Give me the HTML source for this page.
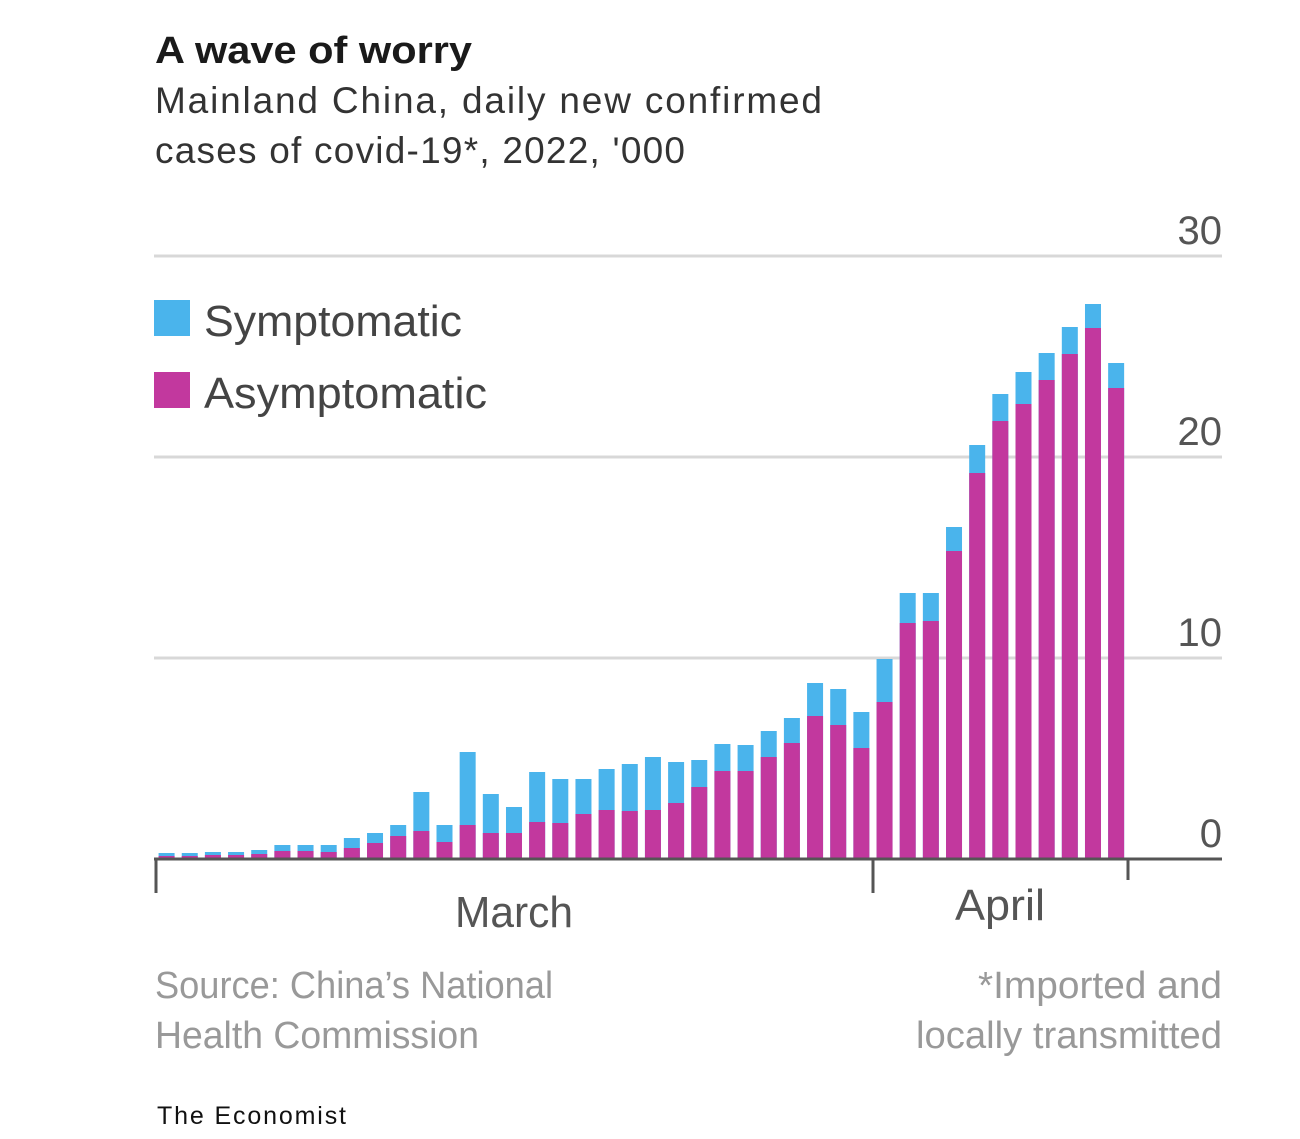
<!DOCTYPE html>
<html><head><meta charset="utf-8">
<style>
html,body{margin:0;padding:0;background:#fff;}
body{width:1300px;height:1139px;overflow:hidden;}
svg{display:block}
text{font-family:"Liberation Sans","DejaVu Sans",sans-serif;}
</style></head>
<body>
<svg id="s" width="1300" height="1139" viewBox="0 0 1300 1139" xmlns="http://www.w3.org/2000/svg">
<text x="155" y="63" font-size="38" font-weight="bold" fill="#1a1a1a" textLength="317" lengthAdjust="spacingAndGlyphs">A wave of worry</text>
<text x="155" y="113" font-size="37" fill="#333" textLength="667" lengthAdjust="spacing">Mainland China, daily new confirmed</text>
<text x="155" y="163" font-size="37" fill="#333" textLength="530" lengthAdjust="spacing">cases of covid-19*, 2022, '000</text>
<g stroke="#d8d8d8" stroke-width="3">
<line x1="154" y1="256" x2="1222" y2="256"/>
<line x1="154" y1="457" x2="1222" y2="457"/>
<line x1="154" y1="658" x2="1222" y2="658"/>
</g>
<g font-size="40" fill="#555" text-anchor="end">
<text x="1222" y="244">30</text>
<text x="1222" y="445">20</text>
<text x="1222" y="646">10</text>
<text x="1222" y="847">0</text>
</g>
<rect x="154" y="300" width="36" height="36" fill="#4ab4ec"/>
<rect x="154" y="372" width="36" height="36" fill="#c2389e"/>
<text x="204" y="336" font-size="44" fill="#444" textLength="258" lengthAdjust="spacingAndGlyphs">Symptomatic</text>
<text x="204" y="408" font-size="44" fill="#444" textLength="283" lengthAdjust="spacingAndGlyphs">Asymptomatic</text>
<g id="bars"></g>
<line x1="154" y1="859" x2="1222" y2="859" stroke="#555" stroke-width="3"/>
<g stroke="#555" stroke-width="3">
<line x1="156" y1="859" x2="156" y2="893"/>
<line x1="873" y1="859" x2="873" y2="893"/>
<line x1="1128" y1="859" x2="1128" y2="880"/>
</g>
<text x="514" y="927" font-size="44" fill="#555" text-anchor="middle" textLength="118" lengthAdjust="spacingAndGlyphs">March</text>
<text x="1000" y="920" font-size="44" fill="#555" text-anchor="middle" textLength="90" lengthAdjust="spacingAndGlyphs">April</text>
<text x="155" y="998" font-size="38" fill="#999" textLength="398" lengthAdjust="spacingAndGlyphs">Source: China’s National</text>
<text x="155" y="1048" font-size="38" fill="#999" textLength="324" lengthAdjust="spacingAndGlyphs">Health Commission</text>
<text x="1222" y="998" font-size="38" fill="#999" text-anchor="end" textLength="244" lengthAdjust="spacingAndGlyphs">*Imported and</text>
<text x="1222" y="1048" font-size="38" fill="#999" text-anchor="end" textLength="306" lengthAdjust="spacingAndGlyphs">locally transmitted</text>
<text x="157" y="1124" font-size="25" fill="#111" textLength="189" lengthAdjust="spacing">The Economist</text>
</svg>
<script>
var d=[[853,856],[853,856],[852,855],[852,855],[850,854],[845,851],[845,851],[845,852],[838,848],[833,843],[825,836],[792,831],[825,842],[752,825],[794,833],[807,833],[772,822],[779,823],[779,814],[769,810],[764,811],[757,810],[762,803],[760,787],[744,771],[745,771],[731,757],[718,743],[683,716],[689,725],[712,748],[659,702],[593,623],[593,621],[527,551],[445,473],[394,421],[372,404],[353,380],[327,354],[304,328],[363,388]];
var g=document.getElementById('bars'),h='';
for(var i=0;i<d.length;i++){var cx=155+23.16*(i+0.5),x=cx-8;
h+='<rect x="'+x+'" y="'+d[i][0]+'" width="16" height="'+(859-d[i][0])+'" fill="#4ab4ec"/>';
h+='<rect x="'+x+'" y="'+d[i][1]+'" width="16" height="'+(859-d[i][1])+'" fill="#c2389e"/>';}
g.innerHTML=h;
</script>
</body></html>
